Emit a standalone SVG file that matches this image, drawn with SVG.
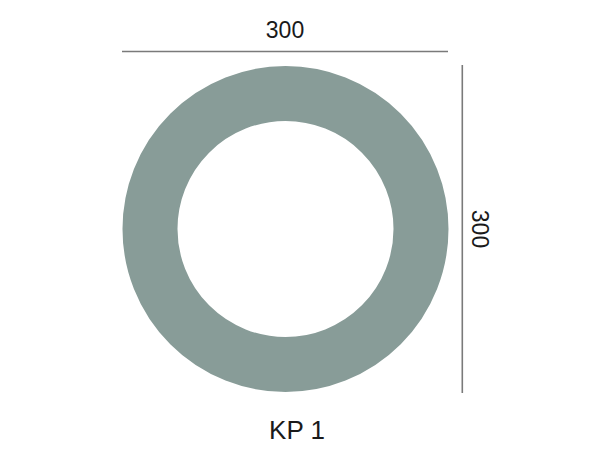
<svg xmlns="http://www.w3.org/2000/svg" width="596" height="456" viewBox="0 0 596 456">
<style>
.dim{stroke:#7a7a7a;stroke-width:1.6;fill:none}
.t{font-family:"Liberation Sans",Arial,sans-serif;fill:#1a1a1a;text-anchor:middle}
</style>
<rect width="596" height="456" fill="#ffffff"/>
<g id="ring">
<circle cx="285.5" cy="229" r="135.5" fill="none" stroke="#889c98" stroke-width="55"/>
</g>
<g id="connectors">
<line class="dim" x1="122" y1="51.5" x2="448" y2="51.5"/>
<line class="dim" x1="462.3" y1="65" x2="462.3" y2="393"/>
</g>
<g id="labels">
<text class="t" x="285" y="37.5" font-size="23">300</text>
<text class="t" x="472" y="229" font-size="23" transform="rotate(90 472 229)">300</text>
<text class="t" x="297" y="438.5" font-size="26">KP 1</text>
</g>
</svg>
